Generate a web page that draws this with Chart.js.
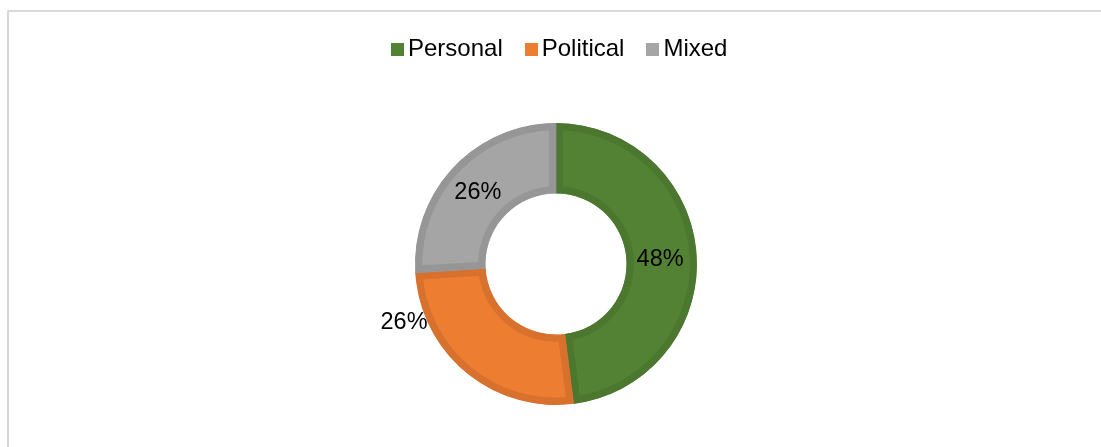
<!DOCTYPE html>
<html>
<head>
<meta charset="utf-8">
<script src="https://cdn.jsdelivr.net/npm/chart.js@4/dist/chart.umd.min.js"></script>
<style>
    html, body {
        margin: 0;
        padding: 0;
        background: #ffffff;
    }
    .wrap {
        position: relative;
        width: 1101px;
        height: 447px;
        overflow: hidden;
        font-family: "Liberation Sans", Arial, sans-serif;
    }
    .frame {
        position: absolute;
        left: 7px;
        top: 10px;
        width: 1200px;
        height: 600px;
        border: 2px solid #d9d9d9;
        box-sizing: border-box;
    }
    #chart {
        position: absolute;
        left: 0;
        top: 0;
    }
    .legend {
        position: absolute;
        left: 391px;
        top: 34px;
        display: flex;
        font-size: 24px;
        line-height: 27px;
        color: #000000;
    }
    .legend-item {
        display: flex;
        align-items: center;
        margin-right: 22px;
    }
    .legend-box {
        width: 13px;
        height: 13px;
        margin-right: 4px;
        margin-top: 3px;
    }
</style>
</head>
<body>
<div class="wrap">
    <div class="frame"></div>
    <canvas id="chart" width="1101" height="447"></canvas>
    <div class="legend" id="legend"></div>
</div>
<script>
// Share of cases by type
const categories = ['Personal', 'Political', 'Mixed'];
const shares = [48, 26, 26];
const fillColors = ['#548235', '#ed7d31', '#a5a5a5'];
const edgeColors = ['#4b782e', '#d8712e', '#969696'];

// Where each percentage sits inside its slice: fraction along the arc
// and fraction from the inner to the outer radius
const labelSpots = [
    { along: 0.5, out: 0.48 },
    { along: 0.82, out: 1.3 },
    { along: 0.5, out: 0.52 }
];

const sliceLabels = {
    id: 'sliceLabels',
    afterDatasetsDraw(chart) {
        const ctx = chart.ctx;
        const meta = chart.getDatasetMeta(0);
        ctx.save();
        ctx.font = '23.5px "Liberation Sans", Arial, sans-serif';
        ctx.fillStyle = '#000000';
        ctx.textAlign = 'center';
        ctx.textBaseline = 'middle';
        meta.data.forEach((arc, i) => {
            const p = arc.getProps(['x', 'y', 'startAngle', 'endAngle', 'innerRadius', 'outerRadius'], true);
            const spot = labelSpots[i];
            const angle = p.startAngle + (p.endAngle - p.startAngle) * spot.along;
            const r = p.innerRadius + (p.outerRadius - p.innerRadius) * spot.out;
            ctx.fillText(shares[i] + '%', p.x + Math.cos(angle) * r, p.y + Math.sin(angle) * r + 2);
        });
        ctx.restore();
    }
};

// Legend built from the chart's own labels and colours
const htmlLegend = {
    id: 'htmlLegend',
    afterUpdate(chart) {
        const box = document.getElementById('legend');
        box.innerHTML = '';
        chart.data.labels.forEach((label, i) => {
            const item = document.createElement('div');
            item.className = 'legend-item';
            const swatch = document.createElement('span');
            swatch.className = 'legend-box';
            swatch.style.background = chart.data.datasets[0].backgroundColor[i];
            const text = document.createElement('span');
            text.textContent = label;
            item.appendChild(swatch);
            item.appendChild(text);
            box.appendChild(item);
        });
    }
};

const ctx = document.getElementById('chart').getContext('2d');
new Chart(ctx, {
    type: 'doughnut',
    data: {
        labels: categories,
        datasets: [{
            data: shares,
            backgroundColor: fillColors,
            borderColor: edgeColors,
            borderWidth: 7,
            borderAlign: 'inner',
            hoverOffset: 0
        }]
    },
    options: {
        responsive: false,
        animation: false,
        cutout: '50%',
        layout: {
            padding: { top: 123, bottom: 42, left: 415, right: 404 }
        },
        plugins: {
            legend: { display: false },
            tooltip: { enabled: false }
        }
    },
    plugins: [sliceLabels, htmlLegend]
});
</script>
</body>
</html>
